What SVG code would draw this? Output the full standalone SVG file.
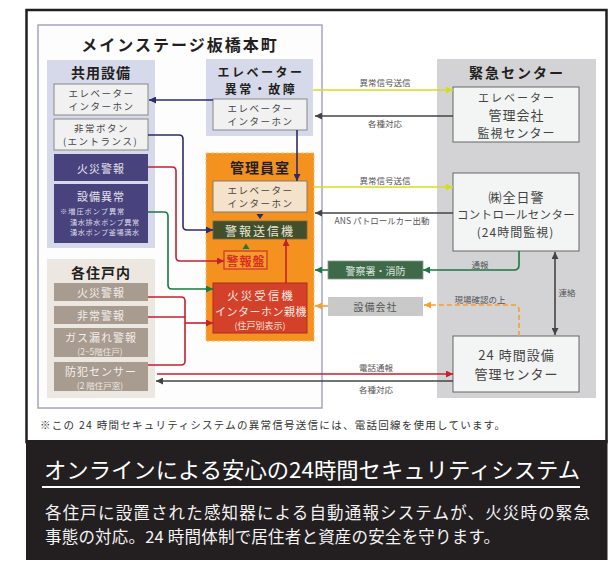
<svg xmlns="http://www.w3.org/2000/svg" width="608" height="565" viewBox="0 0 608 565">
<defs>
<style>
text{font-family:"Noto Sans CJK JP","Noto Sans",sans-serif;dominant-baseline:central;text-anchor:middle}
.h{font-weight:bold;font-size:14px;fill:#231f20;letter-spacing:1px}
.b{font-size:9.5px;fill:#444;letter-spacing:1.5px}
.bw{font-size:11px;fill:#e4e2ee;letter-spacing:1px}
.lb{font-size:8.5px;fill:#555}
.c{font-size:12px;fill:#444;letter-spacing:1px}
.sm{font-size:7.2px;fill:#dcdae8;text-anchor:start}
.box{fill:#f1f1f1;stroke:#888;stroke-width:1}
.cbox{fill:#f3f4f4;stroke:#666;stroke-width:1}
.nv{fill:#48437c}
.br{fill:#a89b90}
.ln{fill:none;stroke-width:1.6}
</style>
<marker id="aN" viewBox="0 0 7 7" refX="7" refY="3.5" markerWidth="7" markerHeight="7" markerUnits="userSpaceOnUse" orient="auto"><path d="M0,0L7,3.5L0,7z" fill="#2b2a6e"/></marker>
<marker id="aR" viewBox="0 0 7 7" refX="7" refY="3.5" markerWidth="7" markerHeight="7" markerUnits="userSpaceOnUse" orient="auto"><path d="M0,0L7,3.5L0,7z" fill="#c4202e"/></marker>
<marker id="aG" viewBox="0 0 7 7" refX="7" refY="3.5" markerWidth="7" markerHeight="7" markerUnits="userSpaceOnUse" orient="auto"><path d="M0,0L7,3.5L0,7z" fill="#177a42"/></marker>
<marker id="aD" viewBox="0 0 7 7" refX="7" refY="3.5" markerWidth="7" markerHeight="7" markerUnits="userSpaceOnUse" orient="auto-start-reverse"><path d="M0,0L7,3.5L0,7z" fill="#444"/></marker>
<marker id="aY" viewBox="0 0 7 7" refX="7" refY="3.5" markerWidth="7" markerHeight="7" markerUnits="userSpaceOnUse" orient="auto"><path d="M0,0L7,3.5L0,7z" fill="#d4dc22"/></marker>
<marker id="aO" viewBox="0 0 7 7" refX="7" refY="3.5" markerWidth="7" markerHeight="7" markerUnits="userSpaceOnUse" orient="auto"><path d="M0,0L7,3.5L0,7z" fill="#f4a032"/></marker>
</defs>

<rect width="608" height="565" fill="#fff"/>
<!-- outer frame -->
<rect x="26.5" y="10" width="580" height="432" fill="#fff" stroke="#231f20" stroke-width="2.5"/>
<rect x="26" y="440" width="581.5" height="120" fill="#231f20"/>

<!-- building frame -->
<g id="building">
<rect x="38" y="25" width="284" height="383" fill="#fdfdfe" stroke="#a4a4c8" stroke-width="1.5"/>
<text x="180" y="44" style="font-weight:bold;font-size:16px;fill:#231f20;letter-spacing:2px">メインステージ板橋本町</text>
</g>

<g id="kyoyo">
<rect x="47" y="60" width="108" height="188" fill="#d6d9e9"/>
<text class="h" x="101" y="72">共用設備</text>
</g>
<g id="kyoyo-ev">
<rect class="box" x="54" y="84" width="94" height="31"/>
<text class="b" x="101.5" y="92.6">エレベーター</text>
<text class="b" x="101.5" y="106.4">インターホン</text>
</g>
<g id="kyoyo-btn">
<rect class="box" x="54" y="119" width="94" height="31"/>
<text class="b" x="101.5" y="127.6">非常ボタン</text>
<text class="b" x="100.5" y="141.4">(エントランス)</text>
</g>
<g id="kyoyo-fire">
<rect class="nv" x="54" y="154" width="94" height="27"/>
<text class="bw" x="101" y="167.5">火災警報</text>
</g>
<g id="kyoyo-setsubi">
<rect class="nv" x="54" y="184" width="94" height="59"/>
<text class="bw" x="101" y="195.5">設備異常</text>
<text class="sm" x="60" y="211" style="letter-spacing:1px">※増圧ポンプ異常</text>
<text class="sm" x="70" y="221.5" style="letter-spacing:0.6px">湧水排水ポンプ異常</text>
<text class="sm" x="70" y="232" style="letter-spacing:0.6px">湧水ポンプ釜場満水</text>
</g>

<g id="ev-fault">
<rect x="206" y="59" width="107" height="77" fill="#d6d9e9"/>
<text class="h" x="261" y="71" style="font-size:12px;letter-spacing:2.5px">エレベーター</text>
<text class="h" x="261" y="88.5" style="font-size:12px;letter-spacing:2.5px">異常・故障</text>
<rect class="box" x="213" y="99" width="94" height="31"/>
<text class="b" x="260.5" y="107.6">エレベーター</text>
<text class="b" x="260.5" y="121.4">インターホン</text>
</g>

<g id="kanri">
<rect x="206" y="153" width="108" height="188" fill="#f3921f" stroke="#f8bd6a" stroke-width="1" stroke-dasharray="3,2"/>
<text class="h" x="260" y="167">管理員室</text>
</g>
<g id="kanri-ev">
<rect x="213" y="181" width="94" height="31" fill="#f5e2cb" stroke="#8a7a6a" stroke-width="1"/>
<text class="b" x="260.5" y="189.6">エレベーター</text>
<text class="b" x="260.5" y="203.4">インターホン</text>
</g>
<g id="keiho-soshin">
<rect x="213" y="221" width="94" height="18" fill="#434f2a" stroke="#6a6a5a" stroke-width="0.8"/>
<text x="260" y="230.5" style="font-size:12px;fill:#e8e8d8;letter-spacing:2px">警報送信機</text>
</g>
<g id="keiho-ban">
<rect x="224" y="251" width="43" height="18" fill="#f39a30" stroke="#d43a22" stroke-width="1.3"/>
<text x="246" y="260.5" style="font-size:12px;fill:#d8301e;font-weight:bold;letter-spacing:1px">警報盤</text>
</g>
<g id="kasai-jushin">
<rect x="213" y="283" width="94" height="50" fill="#d4412a" stroke="#b02e1e" stroke-width="1"/>
<text x="261" y="294.5" style="font-size:11.5px;fill:#fbe9e2;letter-spacing:2px">火災受信機</text>
<text x="261" y="310.8" style="font-size:11px;fill:#fbe9e2;letter-spacing:0.5px">インターホン親機</text>
<text x="260" y="325.3" style="font-size:9px;fill:#fbe0d6">(住戸別表示)</text>
</g>

<g id="jukonai">
<rect x="47" y="259" width="108" height="139" fill="#ece7e1"/>
<text class="h" x="101" y="272">各住戸内</text>
</g>
<g id="ju-fire">
<rect class="br" x="54" y="283" width="94" height="18"/>
<text class="bw" x="101" y="292" style="fill:#f2eeea">火災警報</text>
</g>
<g id="ju-hijo">
<rect class="br" x="54" y="306" width="94" height="18"/>
<text class="bw" x="101" y="315" style="fill:#f2eeea">非常警報</text>
</g>
<g id="ju-gas">
<rect class="br" x="54" y="328" width="94" height="29"/>
<text class="bw" x="101" y="336.5" style="fill:#f2eeea">ガス漏れ警報</text>
<text x="100" y="350.6" style="font-size:8.5px;fill:#ece6e0">(2~5階住戸)</text>
</g>
<g id="ju-bohan">
<rect class="br" x="54" y="362" width="94" height="29"/>
<text class="bw" x="101" y="370.5" style="fill:#f2eeea">防犯センサー</text>
<text x="100" y="384.6" style="font-size:8.5px;fill:#ece6e0">(2 階住戸窓)</text>
</g>

<g id="kinkyu">
<rect x="437" y="59" width="159" height="339" fill="#d3d3d5"/>
<text class="h" x="517" y="72" style="letter-spacing:2px">緊急センター</text>
</g>
<g id="ev-kanri">
<rect class="cbox" x="453" y="87" width="126" height="55"/>
<text x="517" y="96.5" style="font-size:11px;fill:#444;letter-spacing:2px">エレベーター</text>
<text class="c" x="516.5" y="114.4" style="font-size:13px">管理会社</text>
<text class="c" x="516.5" y="132.5">監視センター</text>
</g>
<g id="zennikkei">
<rect class="cbox" x="453" y="173" width="126" height="78"/>
<text class="c" x="516.5" y="196.5" style="font-size:13px">㈱全日警</text>
<text x="516" y="214.3" style="font-size:11.5px;fill:#444;letter-spacing:0.3px">コントロールセンター</text>
<text class="c" x="515.5" y="231.8">(24時間監視)</text>
</g>
<g id="setsubi24">
<rect class="cbox" x="453" y="336" width="126" height="56"/>
<text class="c" x="516.5" y="354" style="font-size:13px">24 時間設備</text>
<text class="c" x="516.5" y="373" style="font-size:13px">管理センター</text>
</g>
<g id="police">
<rect x="328" y="261" width="95" height="18" fill="#3f6a4a" stroke="#8a9a8a" stroke-width="0.8"/>
<text x="375.5" y="270" style="font-size:10px;fill:#dfe6df">警察署・消防</text>
</g>
<g id="setsubi-kaisha">
<rect x="328" y="297" width="95" height="19" fill="#c9c9ca"/>
<text x="375.5" y="306.5" style="font-size:10px;fill:#555;letter-spacing:1px">設備会社</text>
</g>

<g id="connectors">
<path class="ln" stroke="#2b2a6e" d="M213,100H149" marker-end="url(#aN)"/>
<path class="ln" stroke="#2b2a6e" d="M297,130V181" marker-end="url(#aN)"/>
<path class="ln" stroke="#2b2a6e" d="M148,135H179Q183,135 183,139V226Q183,230 187,230H213" marker-end="url(#aN)"/>
<path class="ln" stroke="#c4202e" d="M148,167H172Q176,167 176,171V257Q176,261 180,261H224" marker-end="url(#aR)"/>
<path class="ln" stroke="#177a42" d="M148,212H164Q168,212 168,216V285Q168,289 172,289H213" marker-end="url(#aG)"/>
<path class="ln" stroke="#c4202e" d="M148,297H181Q185,297 185,301V361Q185,365 181,365H148M148,317H185"/>
<path class="ln" stroke="#c4202e" d="M185,323H213" marker-end="url(#aR)"/>
<path class="ln" stroke="#c4202e" d="M286,283V239" marker-end="url(#aR)"/>
<path d="M242.5,249L246,243.5L249.5,249z" fill="#177a42"/>
<path d="M256.5,214L263.5,214L260,219z" fill="#2b2a6e"/>
<path class="ln" stroke="#d4dc22" d="M313,90H453" marker-end="url(#aY)"/>
<path class="ln" stroke="#444" d="M453,116H315" marker-end="url(#aD)"/>
<path class="ln" stroke="#d4dc22" d="M314,187H453" marker-end="url(#aY)"/>
<path class="ln" stroke="#444" d="M453,213H315" marker-end="url(#aD)"/>
<path class="ln" stroke="#177a42" d="M519,251V265Q519,270 514,270H423" marker-end="url(#aG)"/>
<path class="ln" stroke="#177a42" d="M328,270H315" marker-end="url(#aG)"/>
<path class="ln" stroke="#444" d="M555,252V335" marker-start="url(#aD)" marker-end="url(#aD)"/>
<path class="ln" stroke="#f4a032" stroke-dasharray="5,3" d="M519,336V310Q519,305 514,305H424" marker-end="url(#aO)"/>
<path class="ln" stroke="#f4a032" d="M328,306H315" marker-end="url(#aO)"/>
<path class="ln" stroke="#c4202e" d="M157,374H453" marker-end="url(#aR)"/>
<path class="ln" stroke="#444" d="M453,381H156" marker-end="url(#aD)"/>
<text class="lb" x="385" y="82">異常信号送信</text>
<text class="lb" x="385" y="123">各種対応</text>
<text class="lb" x="385" y="179.5">異常信号送信</text>
<text class="lb" x="382" y="220">ANS パトロールカー出動</text>
<text class="lb" x="480" y="264">通報</text>
<text class="lb" x="567" y="292">連絡</text>
<text class="lb" x="480" y="298.5">現場確認の上</text>
<text class="lb" x="376" y="367">電話通報</text>
<text class="lb" x="376" y="388.5">各種対応</text>
</g>

<text x="40" y="424" textLength="465" lengthAdjust="spacing" style="font-size:10.5px;fill:#333;text-anchor:start">※この 24 時間セキュリティシステムの異常信号送信には、電話回線を使用しています。</text>

<g id="caption">
<text x="44" y="468" textLength="536" lengthAdjust="spacingAndGlyphs" style="font-size:22px;fill:#fff;text-anchor:start">オンラインによる安心の24時間セキュリティシステム</text>
<rect x="42" y="486" width="538" height="2" fill="#fff"/>
<text x="45" y="512" textLength="545" lengthAdjust="spacing" style="font-size:16.5px;fill:#f2f2f2;text-anchor:start">各住戸に設置された感知器による自動通報システムが、火災時の緊急</text>
<text x="45" y="536" textLength="455" lengthAdjust="spacing" style="font-size:16.5px;fill:#f2f2f2;text-anchor:start">事態の対応。24 時間体制で居住者と資産の安全を守ります。</text>
</g>
</svg>
